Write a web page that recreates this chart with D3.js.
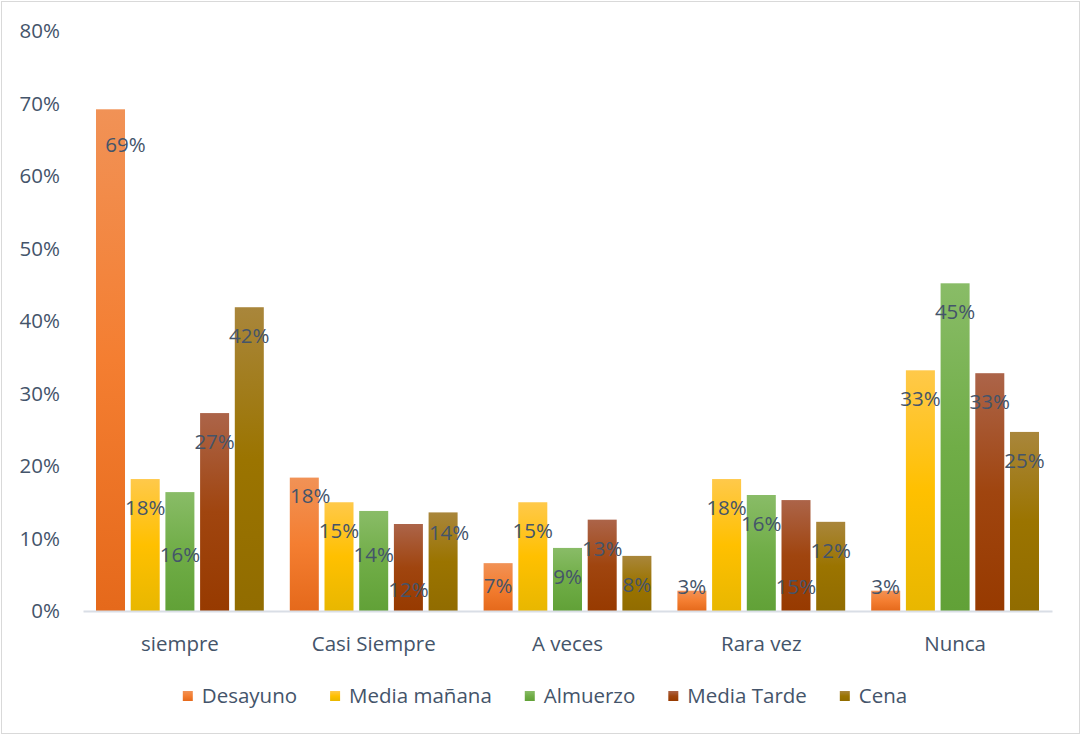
<!DOCTYPE html>
<html>
<head>
<meta charset="utf-8">
<script src="https://cdn.jsdelivr.net/npm/d3@7"></script>
<style>
  html, body { margin: 0; padding: 0; background: #fff; }
  svg { display: block; font-family: "Open Sans", "Noto Sans", sans-serif; }
</style>
</head>
<body>
<svg id="chart" width="1081" height="735"></svg>
<script>
// Categories (frequency) and meals
const categories = ["siempre", "Casi Siempre", "A veces", "Rara vez", "Nunca"];
const seriesNames = ["Desayuno", "Media mañana", "Almuerzo", "Media Tarde", "Cena"];

// Share of respondents per meal, by frequency
const desayuno    = [0.692, 0.184, 0.066, 0.028, 0.028];
const mediaManana = [0.182, 0.150, 0.150, 0.182, 0.332];
const almuerzo    = [0.164, 0.138, 0.087, 0.160, 0.452];
const mediaTarde  = [0.273, 0.120, 0.126, 0.153, 0.328];
const cena        = [0.419, 0.136, 0.076, 0.123, 0.247];

const yTicks = [0, 0.1, 0.2, 0.3, 0.4, 0.5, 0.6, 0.7, 0.8];

// Manual label adjustments (px) to keep labels from overlapping
const labelShiftY = [
  [7, -11, -6, -33, -33],
  [0, 0, 0, 0, 0],
  [34, 15, 0, 0, 0],
  [0, 37, 0, 58, 0],
  [0, -9, 0, 0, 0]
];
const labelShiftX = [
  [15, 6, 0, 0, 0],
  [0, 0, 0, 0, 0],
  [0, 0, 0, 0, 0],
  [0, 0, 0, 0, 0],
  [0, 6, 0, 0, 0]
];

// Gradient stops per series: top, middle, bottom
const palette = [
  ["#F19256", "#F47E31", "#E5691B"],
  ["#FFC94A", "#FFC000", "#E8B700"],
  ["#89BC67", "#70AD47", "#61A137"],
  ["#AC6449", "#A0450F", "#973A00"],
  ["#A9863B", "#9B7400", "#916C00"]
];

const allSeries = [desayuno, mediaManana, almuerzo, mediaTarde, cena];
const rows = categories.map((c, ci) => ({
  category: c,
  values: allSeries.map((s, si) => ({ si, ci, value: s[ci] }))
}));

const svg = d3.select("#chart");
const textColor = "#44546A";
const fontSize = "20.5px";
const margin = { left: 83, right: 29, top: 31, bottom: 124 };
const W = 1081, H = 735;

// Outer border
svg.append("rect")
  .attr("x", 1.5).attr("y", 1.5)
  .attr("width", W - 3).attr("height", H - 3)
  .attr("fill", "#fff").attr("stroke", "#D9D9D9").attr("stroke-width", 1);

const x0 = d3.scaleBand()
  .domain(categories)
  .range([margin.left, W - margin.right])
  .padding(0);

const x1 = d3.scaleBand()
  .domain(d3.range(seriesNames.length))
  .range([13, x0.bandwidth() - 13])
  .paddingInner(0.164)
  .paddingOuter(0);

const y = d3.scaleLinear()
  .domain([0, 0.8])
  .range([H - margin.bottom, margin.top]);

// Gradients
const defs = svg.append("defs");
palette.forEach((cols, i) => {
  const g = defs.append("linearGradient")
    .attr("id", "grad" + i)
    .attr("x1", 0).attr("y1", 0).attr("x2", 0).attr("y2", 1);
  g.append("stop").attr("offset", "0%").attr("stop-color", cols[0]);
  g.append("stop").attr("offset", "50%").attr("stop-color", cols[1]);
  g.append("stop").attr("offset", "100%").attr("stop-color", cols[2]);
});

// Y axis labels
const yAxis = d3.axisLeft(y)
  .tickValues(yTicks)
  .tickFormat(d3.format(".0%"))
  .tickSize(0)
  .tickPadding(0);
const yg = svg.append("g")
  .attr("transform", "translate(60,0)")
  .call(yAxis);
yg.select(".domain").remove();
yg.selectAll("text")
  .attr("fill", textColor)
  .style("font-size", fontSize)
  .style("font-family", "'Open Sans', sans-serif");

// Bars
const groups = svg.append("g").selectAll("g")
  .data(rows)
  .join("g")
  .attr("transform", d => `translate(${x0(d.category)},0)`);

groups.selectAll("rect")
  .data(d => d.values)
  .join("rect")
  .attr("x", d => x1(d.si))
  .attr("width", x1.bandwidth())
  .attr("y", d => y(d.value))
  .attr("height", d => y(0) - y(d.value))
  .attr("fill", d => `url(#grad${d.si})`);

// Baseline / X axis
const xAxis = d3.axisBottom(x0).tickSize(0).tickPadding(25);
const xg = svg.append("g")
  .attr("transform", `translate(0,${y(0)})`)
  .call(xAxis);
xg.select(".domain")
  .attr("stroke", "#D9DEE6")
  .attr("stroke-width", 2);
xg.selectAll("text")
  .attr("fill", textColor)
  .style("font-size", fontSize)
  .style("font-family", "'Open Sans', sans-serif");

// Data labels
const fmt = d3.format(".0%");
groups.selectAll("text.lbl")
  .data(d => d.values)
  .join("text")
  .attr("class", "lbl")
  .attr("x", d => x1(d.si) + x1.bandwidth() / 2 + labelShiftX[d.si][d.ci])
  .attr("y", d => y(d.value) + 29 + labelShiftY[d.si][d.ci])
  .attr("dy", "0.35em")
  .attr("text-anchor", "middle")
  .attr("fill", textColor)
  .style("font-size", fontSize)
  .text(d => fmt(d.value));

// Legend
const legend = svg.append("g");
const items = legend.selectAll("g")
  .data(seriesNames)
  .join("g");
items.append("rect")
  .attr("width", 10).attr("height", 10)
  .attr("y", -5)
  .attr("fill", (d, i) => `url(#grad${i})`);
items.append("text")
  .attr("x", 19)
  .attr("dy", "0.35em")
  .attr("fill", textColor)
  .style("font-size", fontSize)
  .text(d => d);

let widths = [];
items.each(function() {
  widths.push(19 + d3.select(this).select("text").node().getComputedTextLength());
});
const gap = 33;
const total = d3.sum(widths) + gap * (widths.length - 1);
let cx = 545 - total / 2;
items.attr("transform", (d, i) => {
  const t = `translate(${cx},696)`;
  cx += widths[i] + gap;
  return t;
});
</script>
</body>
</html>
